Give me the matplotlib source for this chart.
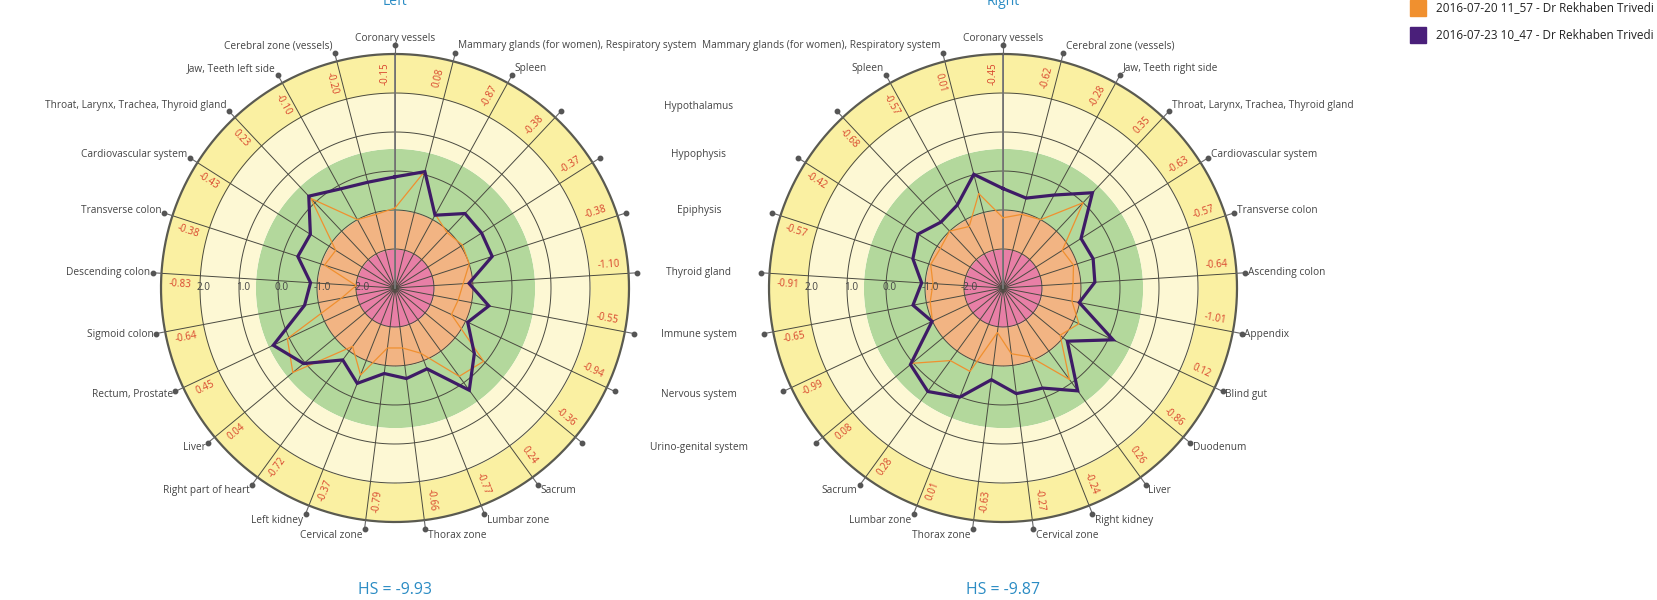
import numpy as np
import matplotlib
matplotlib.use("Agg")
import matplotlib.pyplot as plt
from matplotlib.patches import Rectangle

plt.rcParams["font.family"] = ["Open Sans", "DejaVu Sans"]

# ── Data ───────────────────────────────────────────────────────────────────────
LEFT_CATS = [
    "Coronary vessels", "Mammary glands (for women), Respiratory system", "Spleen",
    "Hypothalamus", "Hypophysis", "Epiphysis", "Thyroid gland", "Immune system",
    "Nervous system", "Urino-genital system", "Sacrum", "Lumbar zone", "Thorax zone",
    "Cervical zone", "Left kidney", "Right part of heart", "Liver", "Rectum, Prostate",
    "Sigmoid colon", "Descending colon", "Transverse colon", "Cardiovascular system",
    "Throat, Larynx, Trachea, Thyroid gland", "Jaw, Teeth left side",
    "Cerebral zone (vessels)",
]
LEFT_PREV = [-0.95, 0.10, -0.85, -1.05, -0.95, -1.00, -1.25, -1.35, -1.40, -0.05,
             -0.20, -1.20, -1.45, -1.45, -0.60, -1.15, 0.40, 0.05, -1.60, -2.00,
             -1.10, -1.20, 0.15, -1.00, -1.05]
LEFT_LAST = [-0.15, 0.08, -0.87, -0.38, -0.37, -0.38, -1.10, -0.55, -0.94, -0.36,
             0.24, -0.77, -0.66, -0.79, -0.37, -0.72, 0.04, 0.45, -0.64, -0.83,
             -0.38, -0.43, 0.23, -0.10, -0.20]

RIGHT_CATS = [
    "Coronary vessels", "Cerebral zone (vessels)", "Jaw, Teeth right side",
    "Throat, Larynx, Trachea, Thyroid gland", "Cardiovascular system",
    "Transverse colon", "Ascending colon", "Appendix", "Blind gut", "Duodenum",
    "Liver", "Right kidney", "Cervical zone", "Thorax zone", "Lumbar zone", "Sacrum",
    "Urino-genital system", "Nervous system", "Immune system", "Thyroid gland",
    "Epiphysis", "Hypophysis", "Hypothalamus", "Spleen",
    "Mammary glands (for women), Respiratory system",
]
RIGHT_PREV = [-1.20, -1.05, -1.00, 0.00, -1.20, -1.10, -1.20, -1.20, -0.85, -1.10,
              -0.10, -1.10, -1.30, -1.85, -0.70, -0.70, 0.03, -1.00, -1.10, -1.20,
              -1.05, -1.10, -1.00, -1.20, -0.50]
RIGHT_LAST = [-0.45, -0.62, -0.28, 0.35, -0.63, -0.57, -0.64, -1.01, 0.12, -0.86,
              0.26, -0.24, -0.27, -0.63, 0.01, 0.28, 0.08, -0.99, -0.65, -0.91,
              -0.57, -0.42, -0.68, -0.57, 0.01]

HS_VALUES = ["-9.93", "-9.87"]
TITLES = ["Left", "Right"]
SERIES = ["2016-07-20 11_57 - Dr Rekhaben Trivedi",
          "2016-07-23 10_47 - Dr Rekhaben Trivedi"]
RADIAL_TICKS = [2.0, 1.0, 0.0, -1.0, -2.0]

# labels shared between the two charts, drawn once in the gap
MID_LABELS = ["Hypothalamus", "Hypophysis", "Epiphysis", "Thyroid gland",
              "Immune system", "Nervous system", "Urino-genital system"]

# ── Style ──────────────────────────────────────────────────────────────────────
W, H = 1658, 600
R_PX = 234
BANDS = [(-3, -2, "#e87fa6"), (-2, -1, "#f2b483"), (-1, 0.58, "#b3d89c"),
         (0.58, 2, "#fdf8d4"), (2, 3, "#faf0a2")]
GRID = "#4a4a40"
ORANGE = "#f0902f"
PURPLE = "#3e1b66"
RED = "#d8432c"
BLUE = "#2b8cc4"
LABEL = "#444444"

fig = plt.figure(figsize=(W / 100, H / 100), dpi=100)
fig.patch.set_facecolor("white")


def polar_at(cx, cy):
    rect = [(cx - R_PX) / W, 1 - (cy + R_PX) / H, 2 * R_PX / W, 2 * R_PX / H]
    ax = fig.add_axes(rect, projection="polar")
    ax.set_theta_zero_location("N")
    ax.set_theta_direction(-1)
    ax.set_ylim(-3, 3)
    ax.grid(False)
    ax.set_xticks([])
    ax.set_yticks([])
    ax.spines["polar"].set_visible(False)
    ax.patch.set_alpha(0)
    return ax


def draw_chart(ax, cats, prev, last):
    n = len(cats)
    theta = np.arange(n) * 2 * np.pi / n
    full = np.linspace(0, 2 * np.pi, 400)

    for r0, r1, col in BANDS:
        ax.fill_between(full, r0, r1, color=col, lw=0, zorder=1)
    for r in RADIAL_TICKS:
        ax.plot(full, np.full_like(full, r), color=GRID, lw=0.7, zorder=2)
    for t in theta:
        ax.plot([t, t], [-3, 3], color=GRID, lw=0.7, zorder=2)
    ax.plot([0, 0], [-3, 3], color="#777777", lw=1.3, zorder=2)
    ax.plot(full, np.full_like(full, 3), color="#5a5a50", lw=1.6, zorder=3,
            clip_on=False)

    # tick stubs + dots outside the rim
    for t in theta:
        ax.plot([t, t], [3, 3.2], color="#666666", lw=0.8, clip_on=False, zorder=3)
    ax.plot(theta, np.full(n, 3.23), "o", ms=3.2, color="#555555",
            clip_on=False, zorder=4)

    # radial tick labels along the left axis
    for r in RADIAL_TICKS:
        ax.text(3 * np.pi / 2, r + 0.08, f"{r:.1f}", ha="left", va="center",
                fontsize=7.2, color=LABEL, zorder=5)

    # series
    tt = np.append(theta, theta[0])
    ax.plot(tt, np.append(prev, prev[0]), color=ORANGE, lw=0.9, zorder=6)
    ax.plot(tt, np.append(last, last[0]), color=PURPLE, lw=2.3, zorder=7,
            solid_joinstyle="miter")

    # latest values written in the outer band
    for t, v in zip(theta, last):
        deg = np.degrees(t)
        phi = 90 - deg
        rot = (phi + 180) % 360 - 180
        if rot > 90:
            rot -= 180
        elif rot <= -90:
            rot += 180
        ax.text(t - np.radians(2.6), 2.5, f"{v:.2f}", rotation=rot,
                rotation_mode="anchor", ha="center", va="center",
                fontsize=7, color=RED, zorder=5)

    # category labels
    for t, name in zip(theta, cats):
        if name in MID_LABELS:
            continue
        s, c = np.sin(t), np.cos(t)
        if s > 0.1:
            ha = "left"
        elif s < -0.1:
            ha = "right"
        else:
            ha = "center"
        dx = 2.5 * np.sign(s) if ha != "center" else 0
        dy = 7 * c
        ax.annotate(name, xy=(t, 3.23), xytext=(dx * 0.72, dy * 0.72),
                    textcoords="offset points", ha=ha, va="center",
                    fontsize=7.3, color=LABEL, annotation_clip=False)


centers = [(395, 288), (1003, 288)]
charts = [(LEFT_CATS, LEFT_PREV, LEFT_LAST), (RIGHT_CATS, RIGHT_PREV, RIGHT_LAST)]

for (cx, cy), (cats, prev, last), title, hs in zip(centers, charts, TITLES, HS_VALUES):
    ax = polar_at(cx, cy)
    draw_chart(ax, cats, prev, last)
    # titles sit half off the top edge, as in the reference
    fig.text(cx / W, 1 - 5 / H, title, ha="center", va="baseline",
             fontsize=10, color=BLUE)
    fig.text(cx / W, 1 - 590 / H, f"HS = {hs}", ha="center", va="center",
             fontsize=11.4, color=BLUE)

# shared labels in the gap between the charts
mid_x = (centers[0][0] + centers[1][0]) / 2
n = len(LEFT_CATS)
for name in MID_LABELS:
    t = LEFT_CATS.index(name) * 2 * np.pi / n
    y = centers[0][1] - 242.5 * np.cos(t) - 7 * np.cos(t)
    fig.text(mid_x / W, 1 - y / H, name, ha="center", va="center",
             fontsize=7.3, color=LABEL)

# legend (top right)
for i, (label, col) in enumerate(zip(SERIES, [ORANGE, "#4a1f7a"])):
    y_c = 8 + 27 * i
    fig.patches.append(Rectangle((1410 / W, 1 - (y_c + 8) / H), 16 / W, 16 / H,
                                 transform=fig.transFigure, color=col))
    fig.text(1436 / W, 1 - y_c / H, label, ha="left", va="center",
             fontsize=8.5, color="#222222")

fig.savefig("out.png", dpi=100)
